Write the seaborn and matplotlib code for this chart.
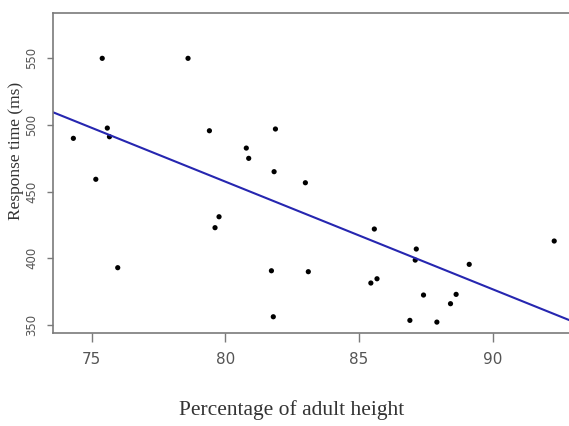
import numpy as np
import pandas as pd
import matplotlib
matplotlib.use("Agg")
import matplotlib.pyplot as plt
from matplotlib import font_manager
import seaborn as sns

# data
pct_adult_height = [74.31, 75.39, 75.15, 75.58, 75.66, 75.97, 78.60, 79.40, 79.76, 79.61,
                    80.78, 80.87, 81.87, 81.82, 81.72, 81.79, 82.99, 83.10, 85.57, 85.44,
                    85.67, 87.14, 87.10, 87.41, 86.90, 87.91, 88.42, 88.63, 89.12, 92.30]
response_ms = [490.0, 550.0, 459.3, 497.7, 491.2, 393.0, 550.0, 495.7, 431.2, 423.0,
               482.7, 475.0, 497.0, 465.0, 390.7, 356.2, 456.7, 390.0, 422.0, 381.5,
               384.7, 407.0, 398.7, 372.5, 353.5, 352.2, 366.0, 373.0, 395.5, 413.0]

# fitted line as shown (abline coefficients)
fit_intercept = 1103.1
fit_slope = -8.07

x_ticks = [75, 80, 85, 90]
y_ticks = [350, 400, 450, 500, 550]

df = pd.DataFrame({"height": pct_adult_height, "rt": response_ms})

sns.set_style("white")

# narrow sans for the tick numbers if the system has it
names = {f.name for f in font_manager.fontManager.ttflist}
tick_font = "Liberation Sans Narrow" if "Liberation Sans Narrow" in names else "DejaVu Sans"

fig = plt.figure(figsize=(5.69, 4.26), dpi=100)
ax = fig.add_axes([0.0937, 0.2176, 0.9132, 0.7519])

sns.scatterplot(data=df, x="height", y="rt", color="black", s=14, edgecolor="none", ax=ax)
ax.axline((0, fit_intercept), slope=fit_slope, color="#2626b0", lw=1.5)

ax.set_xlim(73.56, 93.0)
ax.set_ylim(343.8, 584)
ax.set_xticks(x_ticks)
ax.set_yticks(y_ticks)

for s in ax.spines.values():
    s.set_color("#7a7a7a")
    s.set_linewidth(1.2)

ax.tick_params(axis="x", bottom=True, length=6.5, width=1, color="#7a7a7a", pad=7,
               labelsize=11, labelcolor="#555555")
ax.tick_params(axis="y", left=True, length=4, width=1, color="#7a7a7a", pad=7,
               labelsize=8.5, labelcolor="#555555")
for lbl in ax.get_xticklabels():
    lbl.set_family(tick_font)
for lbl in ax.get_yticklabels():
    lbl.set_family(tick_font)
    lbl.set_rotation(90)
    lbl.set_va("center")

ax.set_xlabel("Percentage of adult height", fontsize=15.5, family="Liberation Serif", color="#333333")
ax.set_ylabel("Response time (ms)", fontsize=12.5, family="Liberation Serif", color="#333333")
ax.xaxis.set_label_coords(0.459, -0.21)
ax.yaxis.set_label_coords(-0.072, 0.569)
ax.xaxis.label.set_va("top")
ax.yaxis.label.set_va("center")

fig.savefig("out.png", dpi=100)
